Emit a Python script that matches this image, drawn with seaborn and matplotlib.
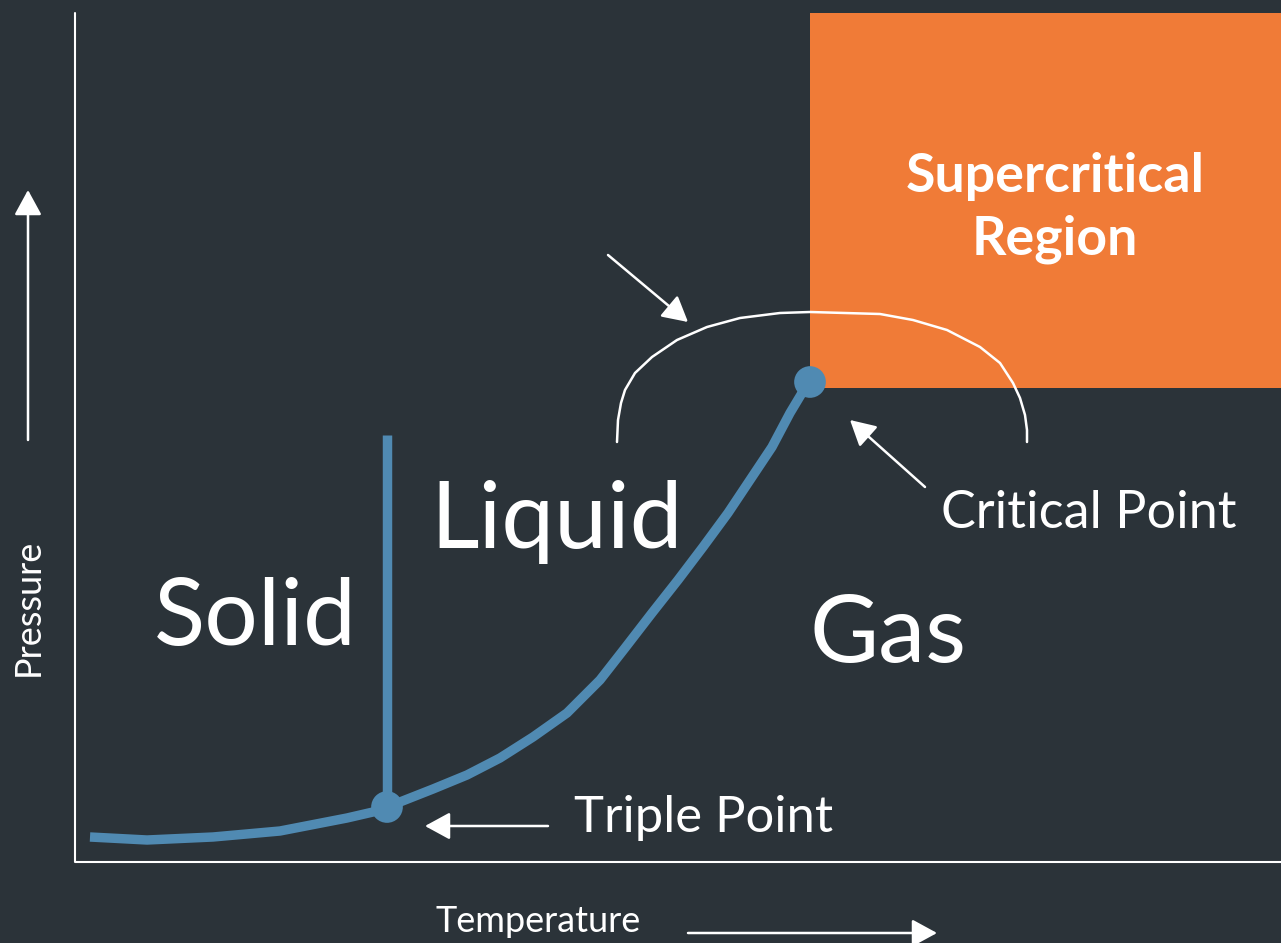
import numpy as np
import pandas as pd
import matplotlib
matplotlib.use("Agg")
from matplotlib import pyplot as plt
import seaborn as sns

# phase boundary (solid/gas + liquid/gas), in drawing units of the picture
curve_x = [90, 147, 213, 280, 347, 373, 387, 400, 433, 467, 500, 533, 567, 600,
           625, 652, 678, 703, 728, 750, 772, 790, 802, 810]
curve_y = [837, 840, 837, 831, 818, 812, 807, 802, 789, 775, 758, 737, 713, 680,
           648, 613, 580, 547, 513, 480, 447, 413, 393, 382]
# solid/liquid boundary
melt_x = [387, 387]
melt_y = [807, 435]
# special points
point_names = ["Triple Point", "Critical Point"]
point_x = [387, 810]
point_y = [807, 382]
# bracket over the critical region
arc_x = [617, 618, 621, 625, 635, 652, 677, 707, 740, 780, 810, 880, 913, 947, 980,
         1000, 1013, 1020, 1025, 1027, 1027]
arc_y = [442, 420, 403, 390, 373, 357, 340, 327, 318, 313, 312, 314, 320, 330, 347,
         363, 383, 398, 415, 430, 442]
# supercritical box [x0, y0, x1, y1]
box = [810, 13, 1281, 388]

BG = "#2b3339"
BLUE = "#508ab2"
ORANGE = "#f07b37"

sns.set_theme(style="white")
plt.rcParams["font.family"] = ["Lato", "DejaVu Sans"]

fig = plt.figure(figsize=(12.81, 9.43), dpi=100, facecolor=BG)
ax = fig.add_axes([0, 0, 1, 1])
ax.set_facecolor(BG)

ax.fill_between([box[0], box[2]], box[1], box[3], color=ORANGE, lw=0, zorder=1)

# axes frame
ax.plot([75, 75, 1281], [13, 862, 862], color="white", lw=1.5, zorder=2)

cdf = pd.DataFrame({"x": curve_x, "y": curve_y})
sns.lineplot(data=cdf, x="x", y="y", sort=False, estimator=None, color=BLUE, lw=6.8,
             solid_capstyle="butt", solid_joinstyle="round", ax=ax, zorder=3)
sns.lineplot(x=melt_x, y=melt_y, sort=False, estimator=None, color=BLUE, lw=6.8,
             solid_capstyle="butt", ax=ax, zorder=3)
adf = pd.DataFrame({"x": arc_x, "y": arc_y})
sns.lineplot(data=adf, x="x", y="y", sort=False, estimator=None, color="white", lw=1.8,
             solid_joinstyle="round", ax=ax, zorder=3)
pdf = pd.DataFrame({"x": point_x, "y": point_y, "name": point_names})
sns.scatterplot(data=pdf, x="x", y="y", s=520, color=BLUE, edgecolor="none", ax=ax, zorder=4)

ax.set_xlim(0, 1281)
ax.set_ylim(943, 0)
ax.set_xlabel("")
ax.set_ylabel("")
ax.axis("off")

arrow = dict(arrowstyle="-|>,head_length=0.55,head_width=0.3", color="white",
             lw=1.8, mutation_scale=28, shrinkA=0, shrinkB=0)
for start, end in [((608, 255), (688, 322)), ((925, 487), (850, 420)),
                   ((548, 826), (425, 826)), ((28, 440), (28, 190)),
                   ((688, 933), (937, 933))]:
    ax.annotate("", xy=end, xytext=start, arrowprops=arrow, zorder=5)

big = dict(color="white", fontsize=68, va="baseline", ha="left")
ax.text(154, 645, "Solid", **big)
ax.text(430, 548, "Liquid", **big)
ax.text(810, 662, "Gas", **big)

ax.text(941, 528, "Critical Point", color="white", fontsize=37.5, va="baseline", ha="left")
ax.text(574, 832, "Triple Point", color="white", fontsize=36.5, va="baseline", ha="left")

ax.text(436, 932, "Temperature", color="white", fontsize=26, va="baseline", ha="left")
ax.text(39, 607, "Pressure", color="white", fontsize=26, rotation=90,
        rotation_mode="anchor", va="baseline", ha="center")

ax.text(1055, 192, "Supercritical", color="white", fontsize=38.6, fontweight="bold",
        va="baseline", ha="center")
ax.text(1055, 254, "Region", color="white", fontsize=38.6, fontweight="bold",
        va="baseline", ha="center")

fig.savefig("out.png", dpi=100, facecolor=BG)
